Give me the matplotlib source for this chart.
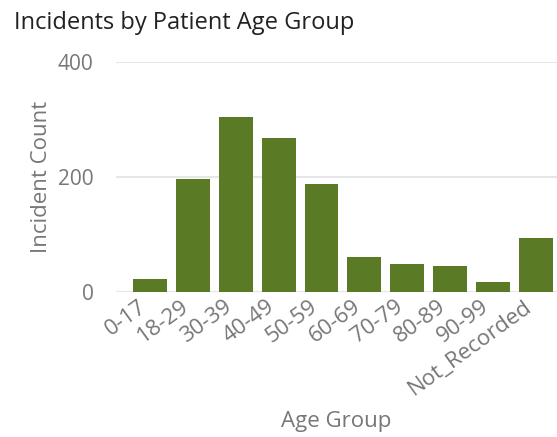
import matplotlib
matplotlib.use('Agg')
import matplotlib.pyplot as plt

age_groups = ['0-17', '18-29', '30-39', '40-49', '50-59', '60-69',
              '70-79', '80-89', '90-99', 'Not_Recorded']
incident_counts = [23, 197, 305, 268, 187, 61, 49, 45, 17, 94]
y_ticks = [0, 200, 400]

plt.rcParams['font.family'] = ['Open Sans', 'DejaVu Sans']

fig = plt.figure(figsize=(5.57, 4.37), dpi=100)
ax = fig.add_axes([0.208, 0.332, 0.792, 0.526])

ax.bar(range(len(age_groups)), incident_counts, width=0.79, color='#5b7a25', zorder=3)
ax.set_xlim(-0.8, 9.5)
ax.set_ylim(0, 400)
ax.set_yticks(y_ticks)
ax.grid(axis='y', color='#e6e6e6', linewidth=1.5, zorder=0)
ax.set_axisbelow(True)
for s in ax.spines.values():
    s.set_visible(False)

ax.set_xticks(range(len(age_groups)))
ax.set_xticklabels(age_groups, rotation=36, ha='right')
ax.tick_params(axis='both', length=0, labelsize=15, labelcolor='#777777')
ax.tick_params(axis='x', pad=3, labelsize=16)
ax.tick_params(axis='y', pad=16)

ax.set_ylabel('Incident Count', fontsize=16, color='#777777', labelpad=4)
ax.set_xlabel('Age Group', fontsize=16, color='#777777', labelpad=8)
fig.text(0.025, 0.948, 'Incidents by Patient Age Group', fontsize=17, color='#222222', va='center')

fig.savefig('out.png', dpi=100)
